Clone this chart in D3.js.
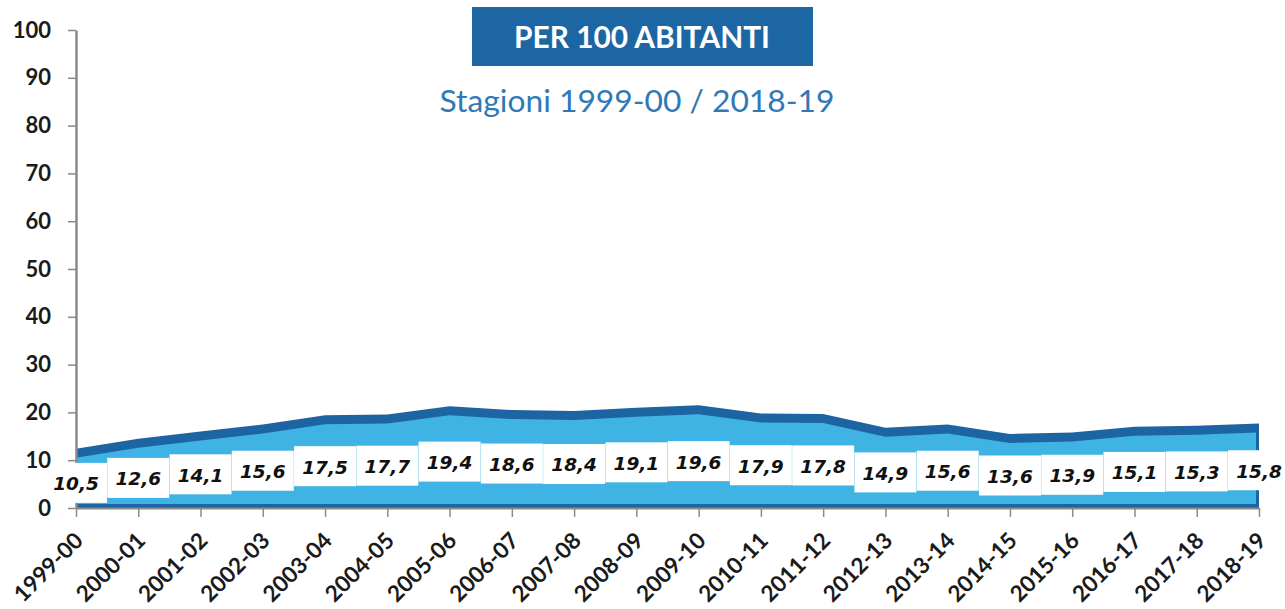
<!DOCTYPE html>
<html>
<head>
<meta charset="utf-8">
<script src="https://cdn.jsdelivr.net/npm/d3@7"></script>
<style>
  html, body { margin: 0; padding: 0; background: #fff; }
  svg { display: block; }
  .tick-label { font-family: Lato, "Open Sans", sans-serif; font-weight: 700; fill: #1a1a1a; }
  .value-label { font-family: "DejaVu Sans", Verdana, sans-serif; font-weight: 700; font-style: italic; fill: #111; }
</style>
</head>
<body>
<div id="chart"></div>
<script>
const seasons = ["1999-00", "2000-01", "2001-02", "2002-03", "2003-04", "2004-05", "2005-06",
  "2006-07", "2007-08", "2008-09", "2009-10", "2010-11", "2011-12", "2012-13", "2013-14",
  "2014-15", "2015-16", "2016-17", "2017-18", "2018-19"];
const perHundred = [10.5, 12.6, 14.1, 15.6, 17.5, 17.7, 19.4, 18.6, 18.4, 19.1, 19.6,
  17.9, 17.8, 14.9, 15.6, 13.6, 13.9, 15.1, 15.3, 15.8];
const yTicks = [0, 10, 20, 30, 40, 50, 60, 70, 80, 90, 100];
const titleText = "PER 100 ABITANTI";
const subtitleText = "Stagioni 1999-00 / 2018-19";

const WIDTH = 1285;
const HEIGHT = 609;
const DARK = "#1d64a2";
const LIGHT = "#3fb4e4";
const AXIS = "#8a8a8a";
const TOP_DEPTH = 9;   // thickness of the dark "3d" top band

const data = seasons.map((s, i) => ({season: s, value: perHundred[i]}));

const svg = d3.select("#chart").append("svg")
  .attr("width", WIDTH)
  .attr("height", HEIGHT);

const x = d3.scalePoint().domain(seasons).range([76, 1259]);
const y = d3.scaleLinear().domain([0, 100]).range([508, 30]);

// fit a text element to a given width by scaling its font size
function fitWidth(sel, target) {
  const w = sel.node().getComputedTextLength();
  const fs = parseFloat(sel.attr("font-size"));
  sel.attr("font-size", fs * target / w);
}

// title box
svg.append("rect")
  .attr("x", 472).attr("y", 7)
  .attr("width", 341).attr("height", 59)
  .attr("fill", "#1c66a3");

svg.append("text")
  .attr("x", 642).attr("y", 48)
  .attr("text-anchor", "middle")
  .attr("font-family", "Lato, 'Open Sans', sans-serif")
  .attr("font-weight", 700)
  .attr("font-size", 30)
  .attr("fill", "#fff")
  .text(titleText)
  .call(fitWidth, 256);

svg.append("text")
  .attr("x", 637).attr("y", 112)
  .attr("text-anchor", "middle")
  .attr("font-family", "Lato, 'Noto Sans', sans-serif")
  .attr("font-weight", 400)
  .attr("font-size", 30)
  .attr("fill", "#3079b6")
  .text(subtitleText)
  .call(fitWidth, 395);

// back shape: dark top band + dark base/side edges
const back = d3.area()
  .x(d => x(d.season))
  .y0(y(0))
  .y1(d => y(d.value) - TOP_DEPTH);

svg.append("path")
  .datum(data)
  .attr("d", back)
  .attr("fill", DARK);

// front face
const lastX = x(seasons[seasons.length - 1]);
const front = d3.area()
  .x(d => Math.min(x(d.season), lastX - 3))
  .y0(y(0) - 4)
  .y1(d => y(d.value));

svg.append("path")
  .datum(data)
  .attr("d", front)
  .attr("fill", LIGHT);

// y axis line and ticks (labels drawn later, above the value boxes)
const yAxis = svg.append("g")
  .attr("transform", `translate(${x(seasons[0])},0)`)
  .call(d3.axisLeft(y).tickValues(yTicks).tickSize(8).tickSizeOuter(0).tickFormat(""));
yAxis.select(".domain").attr("stroke", AXIS).attr("stroke-width", 2.5);
yAxis.selectAll(".tick line").attr("stroke", AXIS).attr("stroke-width", 1.5);

// x axis
const xAxis = svg.append("g")
  .attr("transform", `translate(0,${y(0)})`)
  .call(d3.axisBottom(x).tickSize(9).tickSizeOuter(0).tickPadding(0));
xAxis.select(".domain").attr("stroke", AXIS).attr("stroke-width", 2);
xAxis.selectAll(".tick line").attr("stroke", AXIS).attr("stroke-width", 1.5);
xAxis.selectAll(".tick text")
  .attr("class", "tick-label")
  .attr("font-size", 22.5)
  .attr("fill", null)
  .attr("text-anchor", "end")
  .attr("y", 0)
  .attr("dy", 0)
  .attr("transform", "translate(8,34) rotate(-45)");

// value labels, centred in the middle of the area
const BOX_W = 62;
const BOX_H = 40;
const labels = svg.selectAll("g.value")
  .data(data)
  .join("g")
  .attr("class", "value")
  .attr("transform", d => `translate(${x(d.season)},${y(d.value / 2)})`);

labels.append("rect")
  .attr("x", -BOX_W / 2)
  .attr("y", -BOX_H / 2)
  .attr("width", BOX_W)
  .attr("height", BOX_H)
  .attr("fill", "#fff");

labels.append("text")
  .attr("class", "value-label")
  .attr("text-anchor", "middle")
  .attr("dy", "0.4em")
  .attr("font-size", 18.5)
  .text(d => d3.format(".1f")(d.value).replace(".", ","));

// y tick labels
const yLabels = svg.append("g")
  .attr("transform", `translate(${x(seasons[0])},0)`)
  .call(d3.axisLeft(y).tickValues(yTicks).tickSize(8).tickPadding(17).tickSizeOuter(0));
yLabels.select(".domain").remove();
yLabels.selectAll(".tick line").remove();
yLabels.selectAll(".tick text")
  .attr("class", "tick-label")
  .attr("font-size", 22)
  .attr("fill", null);
</script>
</body>
</html>
